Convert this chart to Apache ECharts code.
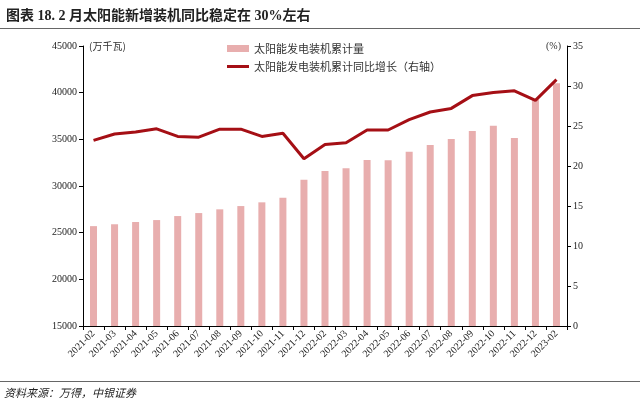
<!DOCTYPE html>
<html><head><meta charset="utf-8">
<script src="https://cdn.jsdelivr.net/npm/echarts@6/dist/echarts.min.js"></script>
<style>html,body{margin:0;padding:0;background:#fff}#c{width:640px;height:402px}
.t{position:absolute;left:6px;top:4px;font:bold 14px "Liberation Serif","Noto Sans CJK SC",serif;color:#222}
.l1{position:absolute;left:0;top:28px;width:640px;height:1px;background:#666}
.l2{position:absolute;left:0;top:381px;width:640px;height:1px;background:#666}
.s{position:absolute;left:4px;top:384px;font:italic 11px "Liberation Serif","Noto Sans CJK SC",serif;color:#222}
</style></head><body>
<div id="c"></div>
<div class="t">图表 18. 2 月太阳能新增装机同比稳定在 30%左右</div>
<div class="l1"></div><div class="l2"></div>
<div class="s">资料来源：万得，中银证券</div>
<script>
const categories = ['2021-02','2021-03','2021-04','2021-05','2021-06','2021-07','2021-08','2021-09','2021-10','2021-11','2021-12','2022-02','2022-03','2022-04','2022-05','2022-06','2022-07','2022-08','2022-09','2022-10','2022-11','2022-12','2023-02'];
const capacity = [25700,25900,26140,26350,26780,27100,27500,27850,28250,28750,30670,31600,31890,32780,32760,33670,34390,35030,35880,36450,35130,39260,41000];
const growth = [23.2,24.0,24.25,24.65,23.7,23.6,24.6,24.6,23.7,24.1,20.9,22.7,22.9,24.5,24.5,25.8,26.75,27.2,28.8,29.2,29.4,28.2,30.8];
const leftTicks = {min:15000,max:45000,interval:5000};
const rightTicks = {min:0,max:35,interval:5};
const chart = echarts.init(document.getElementById('c'));
const axisFont = {fontFamily:'Liberation Serif', fontSize:10, color:'#222'};
chart.setOption({
  animation:false,
  grid:{left:83,right:73,top:46,bottom:76},
  legend:{left:222,top:38,orient:'vertical',itemGap:7,itemWidth:22,itemHeight:7,
    textStyle:{fontFamily:'Noto Sans CJK SC',fontSize:11,color:'#333'},
    data:[{name:'太阳能发电装机累计量',icon:'rect'},
          {name:'太阳能发电装机累计同比增长（右轴）',icon:'path://M0,2H22V5H0Z',itemStyle:{color:'#A50F15'}}]},
  xAxis:{type:'category',data:categories,
    axisLine:{lineStyle:{color:'#000'}},
    axisTick:{show:true,alignWithLabel:false,length:4,lineStyle:{color:'#000'}},
    axisLabel:Object.assign({rotate:45,interval:0,margin:6},axisFont)},
  yAxis:[
    {type:'value',min:leftTicks.min,max:leftTicks.max,interval:leftTicks.interval,
     name:'(万千瓦)',nameLocation:'end',nameGap:-2,nameTextStyle:{fontFamily:'Noto Sans CJK SC',fontSize:10,color:'#333',align:'left',padding:[0,0,-3,6]},
     axisLine:{show:true,lineStyle:{color:'#000'}},axisTick:{show:true,length:4,lineStyle:{color:'#000'}},
     splitLine:{show:false},axisLabel:Object.assign({margin:6,formatter:v=>String(v)},axisFont)},
    {type:'value',min:rightTicks.min,max:rightTicks.max,interval:rightTicks.interval,position:'right',
     name:'(%)',nameLocation:'end',nameGap:-2,nameTextStyle:{fontFamily:'Liberation Serif',fontSize:10,color:'#333',align:'right',padding:[0,6,-3,0]},
     axisLine:{show:true,lineStyle:{color:'#000'}},axisTick:{show:true,length:4,lineStyle:{color:'#000'}},
     splitLine:{show:false},axisLabel:Object.assign({margin:6,formatter:v=>String(v)},axisFont)}
  ],
  series:[
    {name:'太阳能发电装机累计量',type:'bar',data:capacity,barWidth:7,itemStyle:{color:'#E8AEAE'},yAxisIndex:0},
    {name:'太阳能发电装机累计同比增长（右轴）',type:'line',data:growth,yAxisIndex:1,symbol:'none',
     lineStyle:{color:'#A50F15',width:3},itemStyle:{color:'#A50F15'}}
  ]
});
</script></body></html>
